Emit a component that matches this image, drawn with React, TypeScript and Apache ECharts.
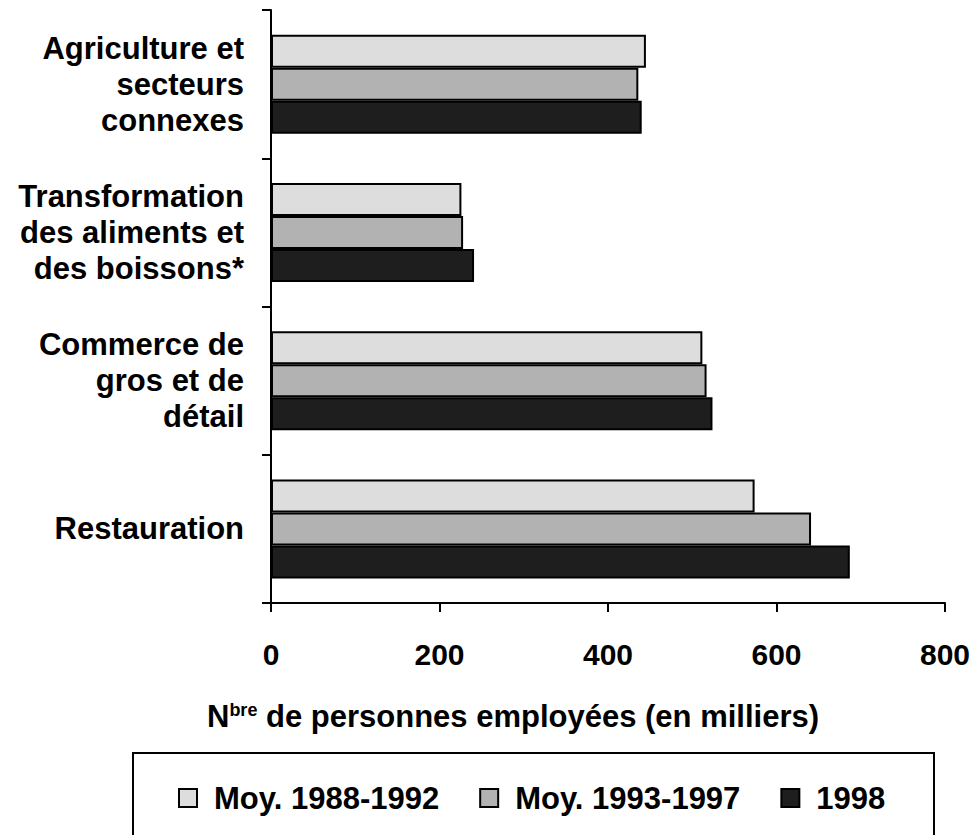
import React, { useEffect, useRef } from 'react';
import * as echarts from 'echarts';

const categories = [
  'Agriculture et\nsecteurs\nconnexes',
  'Transformation\ndes aliments et\ndes boissons*',
  'Commerce de\ngros et de\ndétail',
  'Restauration',
];
const seriesNames = ['Moy. 1988-1992', 'Moy. 1993-1997', '1998'];
const avg8892 = [445, 226, 512, 574];
const avg9397 = [436, 228, 517, 641];
const y1998 = [440, 241, 524, 687];
const xMin = 0;
const xMax = 800;
const xInterval = 200;
const barColors = ['#DDDDDD', '#B2B2B2', '#1E1E1E'];
const axisTitle = '{n|N}{s|bre}{n| de personnes employées (en milliers)}';

const FONT = '"Liberation Sans", Arial, Helvetica, sans-serif';

export default function App() {
  const ref = useRef<HTMLDivElement>(null);
  useEffect(() => {
    if (!ref.current) return;
    const chart = echarts.init(ref.current, undefined, { renderer: 'svg' });
    const values = [avg8892, avg9397, y1998];
    chart.setOption({
      animation: false,
      backgroundColor: '#ffffff',
      textStyle: { fontFamily: FONT, color: '#000' },
      title: {
        text: axisTitle,
        left: 207,
        top: 699,
        padding: 0,
        textStyle: {
          rich: {
            n: { fontFamily: FONT, fontSize: 31, fontWeight: 'bold', color: '#000', lineHeight: 34 },
            s: { fontFamily: FONT, fontSize: 18, fontWeight: 'bold', color: '#000', lineHeight: 34, verticalAlign: 'top', padding: [2, 0, 0, 0] },
          },
        },
      },
      legend: {
        data: seriesNames,
        left: 178,
        top: 781,
        padding: 0,
        itemWidth: 18,
        itemHeight: 18,
        itemGap: 40,
        icon: 'rect',
        textStyle: {
          fontFamily: FONT,
          fontSize: 31,
          fontWeight: 'bold',
          color: '#000',
          padding: [0, 0, 0, 12],
          lineHeight: 34,
        },
      },
      graphic: [
        {
          type: 'rect',
          shape: { x: 133, y: 753, width: 801, height: 120 },
          style: { fill: 'none', stroke: '#000', lineWidth: 2 },
          silent: true,
        },
      ],
      grid: {
        left: 271,
        right: 32,
        top: 10,
        bottom: 232,
        containLabel: false,
        outerBoundsMode: 'none',
      },
      xAxis: {
        type: 'value',
        min: xMin,
        max: xMax,
        interval: xInterval,
        splitLine: { show: false },
        axisLine: { show: true, lineStyle: { color: '#000', width: 2 } },
        axisTick: { show: true, length: 9, lineStyle: { color: '#000', width: 2 } },
        axisLabel: {
          fontFamily: FONT,
          fontSize: 30,
          fontWeight: 'bold',
          color: '#000',
          margin: 36,
        },
      },
      yAxis: {
        type: 'category',
        inverse: true,
        data: categories,
        axisLine: { show: true, lineStyle: { color: '#000', width: 2 } },
        axisTick: { show: true, length: 9, lineStyle: { color: '#000', width: 2 } },
        axisLabel: {
          fontFamily: FONT,
          fontSize: 31,
          fontWeight: 'bold',
          color: '#000',
          lineHeight: 36,
          margin: 27,
          align: 'right',
        },
      },
      series: seriesNames.map((name, i) => ({
        name,
        type: 'bar',
        data: values[i],
        barWidth: 33,
        barGap: '0%',
        itemStyle: { color: barColors[i], borderColor: '#000', borderWidth: 2 },
      })),
    });
    return () => chart.dispose();
  }, []);
  return (
    <div
      ref={ref}
      style={{ position: 'absolute', left: 0, top: 0, width: 977, height: 835 }}
    />
  );
}
